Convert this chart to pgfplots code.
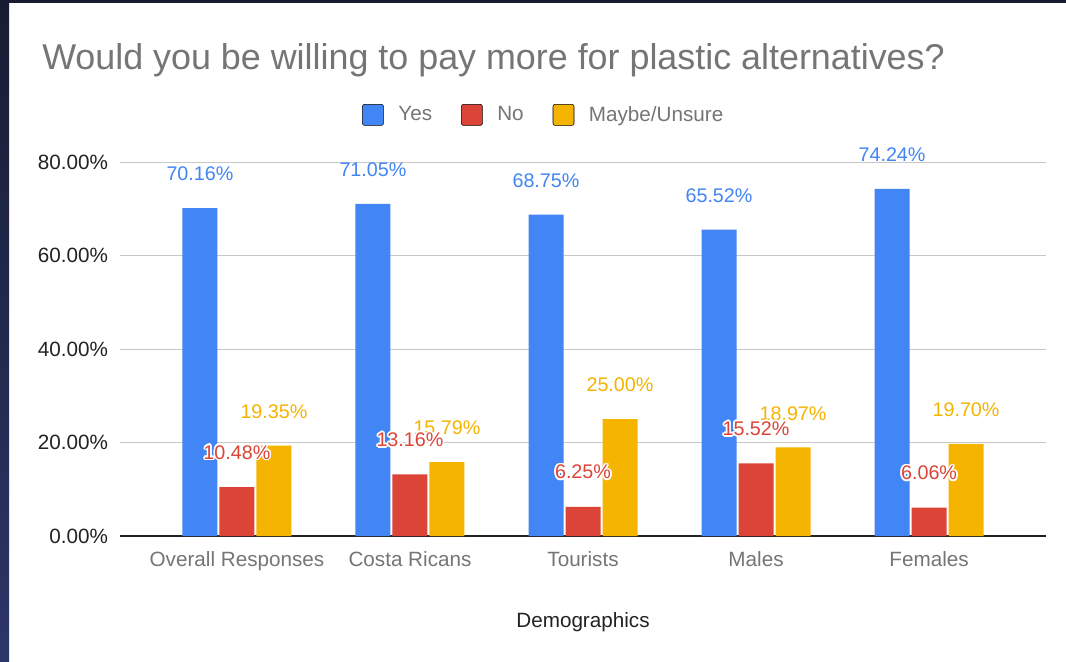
\documentclass[border=0pt]{standalone}
\usepackage{pgfplots}
\pgfplotsset{compat=1.18}
\usepackage{fontspec}
\setmainfont{Liberation Sans}
\usepackage{contour}
\contourlength{1.2pt}
\contournumber{12}
\definecolor{gblue}{HTML}{4285F4}
\definecolor{gred}{HTML}{DB4437}
\definecolor{gyellow}{HTML}{F4B400}
\definecolor{titlegray}{HTML}{757575}
\definecolor{darktext}{HTML}{222222}
\definecolor{navytop}{HTML}{181C33}
\definecolor{navybot}{HTML}{2C3668}
\newcommand\lbl[1]{\pgfmathprintnumber[fixed,fixed zerofill,precision=2]{#1}\%}
\newcommand\hlbl[1]{\contour{white}{\pgfmathprintnumber[fixed,fixed zerofill,precision=2]{#1}\%}}
\begin{document}
\begin{tikzpicture}[x=0.75pt,y=0.75pt]
\useasboundingbox (0,0) rectangle (1066,661);
\fill[white] (0,0) rectangle (1066,661);
\shade[top color=navytop,bottom color=navybot] (0,0) rectangle (9,661);
\fill[navytop] (0,658) rectangle (1066,661);
\node[anchor=base west, text=titlegray, font=\fontsize{26.9}{31}\selectfont, inner sep=0pt] at (42,591) {Would you be willing to pay more for plastic alternatives?};
\begin{axis}[
  at={(90pt,93.75pt)}, anchor=south west,
  scale only axis, width=694.5pt, height=280.5pt,
  clip=false,
  xmin=-0.676, xmax=4.676, ymin=0, ymax=80,
  xtick={0,1,2,3,4},
  xticklabels={Overall Responses, Costa Ricans, Tourists, Males, Females},
  ytick={20,40,60,80},
  extra y ticks={0},
  extra y tick style={grid style={draw=darktext, line width=1.1pt}},
  yticklabel={\pgfmathprintnumber[fixed,fixed zerofill,precision=2]{\tick}\%},
  /pgf/number format/assume math mode=true,
  axis line style={draw=none},
  major tick length=0pt,
  ymajorgrids,
  grid style={draw=black!22, line width=0.75pt},
  tick label style={font=\fontsize{15.5}{18}\selectfont},
  yticklabel style={text=darktext, anchor=east, xshift=-5.5pt},
  xticklabel style={text=titlegray, anchor=base, yshift=-23pt},
  xlabel={Demographics},
  xlabel style={at={(0.5,0)}, anchor=center, yshift=-64.5pt, text=darktext, font=\fontsize{15.5}{18}\selectfont},
  legend style={at={(0.458,1.126)}, anchor=center, draw=none, fill=none,
    font=\fontsize{15.5}{18}\selectfont, text=titlegray,
    /tikz/every odd column/.append style={column sep=9pt},
    /tikz/every even column/.append style={column sep=19.75pt}},
  legend columns=3,
  legend image code/.code={\fill[#1, rounded corners=1.5pt] (0pt,-7.875pt) rectangle (15.75pt,7.875pt);},
  every node near coord/.append style={font=\fontsize{14.8}{17}\selectfont, anchor=center, yshift=25.5pt},
]
\addlegendimage{fill=gblue}
\addlegendentry{Yes}
\addlegendimage{fill=gred}
\addlegendentry{No}
\addlegendimage{fill=gyellow}
\addlegendentry{Maybe/Unsure}
\addplot[ybar, bar width=26.25pt, bar shift=-27.75pt, fill=gblue, draw=none,
  nodes near coords={\lbl{\pgfplotspointmeta}}, every node near coord/.append style={text=gblue, xshift=-27.75pt}, forget plot]
  coordinates {(0,70.16) (1,71.05) (2,68.75) (3,65.52) (4,74.24)};
\addplot[ybar, bar width=26.25pt, bar shift=27.75pt, fill=gyellow, draw=none,
  nodes near coords={\lbl{\pgfplotspointmeta}}, every node near coord/.append style={text=gyellow, xshift=27.75pt}, forget plot]
  coordinates {(0,19.35) (1,15.79) (2,25.00) (3,18.97) (4,19.70)};
\addplot[ybar, bar width=26.25pt, bar shift=0pt, fill=gred, draw=none,
  nodes near coords={\hlbl{\pgfplotspointmeta}}, every node near coord/.append style={text=gred}, forget plot]
  coordinates {(0,10.48) (1,13.16) (2,6.25) (3,15.52) (4,6.06)};
\end{axis}
\end{tikzpicture}
\end{document}
